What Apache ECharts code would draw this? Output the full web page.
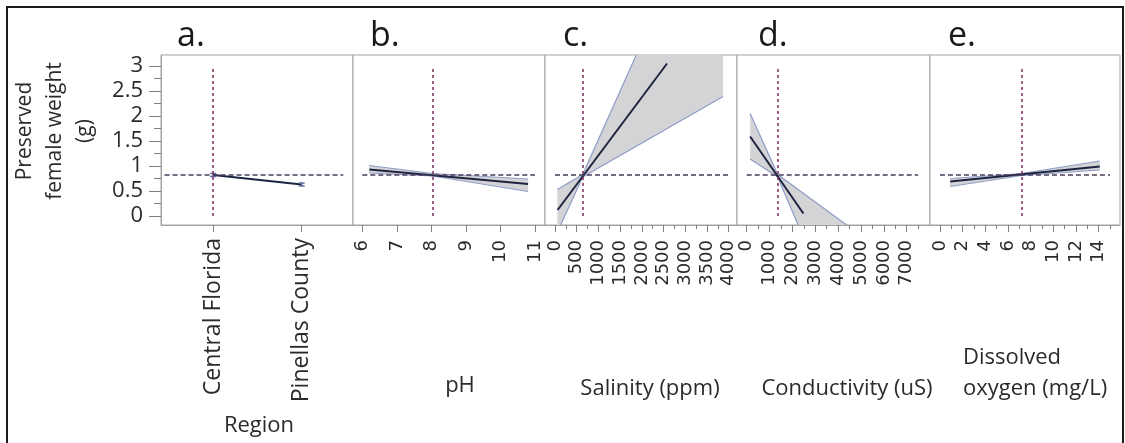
<!DOCTYPE html>
<html><head><meta charset="utf-8">
<script src="https://cdn.jsdelivr.net/npm/echarts@6/dist/echarts.min.js"></script>
<style>html,body{margin:0;padding:0;background:#fff}#c{width:1125px;height:443px}</style>
</head><body><div id="c"></div>
<script>
// ---------- data ----------
const regions = ['Central Florida', 'Pinellas County'];
const regionMean = [0.82, 0.63];
const regionLow = [0.79, 0.60];
const regionHigh = [0.85, 0.66];

const phLineX = [6.2, 10.8];
const phLineY = [0.93, 0.64];
const phBandX = [6.2, 8.03, 10.8];
const phBandLo = [0.86, 0.80, 0.49];
const phBandHi = [1.01, 0.85, 0.74];

const salLineX = [60, 2580];
const salLineY = [0.12, 3.05];
const salBandX = [55, 638, 3870];
const salBandLo = [-0.32, 0.78, 2.39];
const salBandHi = [0.53, 0.83, 7.09];

const condLineX = [150, 2480];
const condLineY = [1.59, 0.05];
const condBandX = [150, 1356, 5000];
const condBandLo = [1.14, 0.78, -3.13];
const condBandHi = [2.05, 0.83, -0.39];

const doLineX = [0.9, 14.1];
const doLineY = [0.69, 0.99];
const doBandX = [0.9, 7.2, 14.1];
const doBandLo = [0.59, 0.81, 0.92];
const doBandHi = [0.75, 0.85, 1.10];

// reference (mean) lines
const meanWeight = 0.82;
const refX = [0, 8.03, 638, 1356, 7.2];          // current factor settings
const refSpanX = [[-0.55, 1.47], [6, 11], [0, 4000], [0, 7500], [0, 15]];
const refSpanY = [0, 3];

// tick values / labels
const yTickVals = [0, 0.5, 1, 1.5, 2, 2.5, 3];
const yTickLabels = ['0', '0.5', '1', '1.5', '2', '2.5', '3'];
const yMinorVals = [0.25, 0.75, 1.25, 1.75, 2.25, 2.75];

const regionTickVals = [0, 1];
const phTickVals = [6, 7, 8, 9, 10, 11];
const phTickLabels = ['6', '7', '8', '9', '10', '11'];
const salTickVals = [0, 500, 1000, 1500, 2000, 2500, 3000, 3500, 4000];
const salTickLabels = ['0', '500', '1000', '1500', '2000', '2500', '3000', '3500', '4000'];
const salMinorVals = [250, 750, 1250, 1750, 2250, 2750, 3250, 3750];
const condTickVals = [0, 1000, 2000, 3000, 4000, 5000, 6000, 7000];
const condTickLabels = ['0', '1000', '2000', '3000', '4000', '5000', '6000', '7000'];
const condMinorVals = [500, 1500, 2500, 3500, 4500, 5500, 6500, 7500];
const doTickVals = [0, 2, 4, 6, 8, 10, 12, 14];
const doTickLabels = ['0', '2', '4', '6', '8', '10', '12', '14'];
const doMinorVals = [1, 3, 5, 7, 9, 11, 13, 15];

const panelLetters = ['a.', 'b.', 'c.', 'd.', 'e.'];
const axisTitles = ['Region', 'pH', 'Salinity (ppm)', 'Conductivity (uS)', 'Dissolved\noxygen (mg/L)'];
const yTitle = 'Preserved\nfemale weight\n(g)';

// ---------- layout ----------
const FONT = '"Open Sans", "Noto Sans", sans-serif';
const TXT = '#2b2b2b';
const gridX = [[161, 353], [353, 545], [545, 737], [737, 930], [930, 1120]];
const gridTop = 55, gridBottomY = 225;
const xRanges = [[-0.59, 1.58], [5.73, 11.29], [-230, 4190], [-424, 8019], [-0.88, 15.88]];
const yRange = [-0.18, 3.22];

const panels = [
  {ticks: regionTickVals, labels: regions, minor: [], fs: 23},
  {ticks: phTickVals, labels: phTickLabels, minor: [], fs: 18},
  {ticks: salTickVals, labels: salTickLabels, minor: salMinorVals, fs: 18},
  {ticks: condTickVals, labels: condTickLabels, minor: condMinorVals, fs: 18},
  {ticks: doTickVals, labels: doTickLabels, minor: doMinorVals, fs: 18}
];

const grids = gridX.map(g => ({
  left: g[0], width: g[1] - g[0], top: gridTop, height: gridBottomY - gridTop,
  show: true, borderColor: '#a3a3a3', borderWidth: 1, backgroundColor: '#fff'
}));

const xAxes = [];
panels.forEach((p, i) => {
  xAxes.push({
    gridIndex: i, type: 'value', min: xRanges[i][0], max: xRanges[i][1], position: 'bottom',
    axisLine: {show: true, onZero: false, lineStyle: {color: '#a3a3a3'}},
    axisTick: {show: true, length: 7, customValues: p.ticks, lineStyle: {color: '#808080'}},
    axisLabel: {
      customValues: p.ticks, rotate: 90, margin: i === 0 ? 13 : 15, fontSize: p.fs,
      fontFamily: i === 0 ? FONT : '"DejaVu Sans", sans-serif',
      color: TXT, formatter: v => p.labels[p.ticks.indexOf(v)]
    },
    splitLine: {show: false}
  });
});
panels.forEach((p, i) => {
  xAxes.push({
    gridIndex: i, type: 'value', min: xRanges[i][0], max: xRanges[i][1], position: 'bottom',
    axisLine: {show: false, onZero: false},
    axisTick: {show: p.minor.length > 0, length: 4, customValues: p.minor.length ? p.minor : [xRanges[i][0]], lineStyle: {color: '#808080'}},
    axisLabel: {show: false}, splitLine: {show: false}
  });
});

const yAxes = gridX.map((g, i) => ({
  gridIndex: i, type: 'value', min: yRange[0], max: yRange[1], position: 'left',
  show: i === 0,
  axisLine: {show: true, onZero: false, lineStyle: {color: '#a3a3a3'}},
  axisTick: {show: true, length: 12, customValues: yTickVals, lineStyle: {color: '#808080'}},
  axisLabel: {customValues: yTickVals, margin: 18, fontSize: 22, fontFamily: FONT, color: TXT,
    formatter: v => yTickLabels[yTickVals.indexOf(v)]},
  splitLine: {show: false}
}));
yAxes.push({
  gridIndex: 0, type: 'value', min: yRange[0], max: yRange[1], position: 'left',
  axisLine: {show: false, onZero: false},
  axisTick: {show: true, length: 7, customValues: yMinorVals, lineStyle: {color: '#808080'}},
  axisLabel: {show: false}, splitLine: {show: false}
});

const LINE_C = '#1d2440';
const BAND_FILL = '#d4d4d6';
const BAND_EDGE = '#8f9dc9';

function refLines(i) {
  return {
    silent: true, symbol: ['none', 'none'], label: {show: false}, animation: false,
    data: [
      [{coord: [refSpanX[i][0], meanWeight], lineStyle: {color: '#4a3c5c', type: [5, 3], width: 1.5}},
       {coord: [refSpanX[i][1], meanWeight]}],
      [{coord: [refX[i], refSpanY[0]], lineStyle: {color: '#7b2d5b', type: [3, 3], width: 1.5}},
       {coord: [refX[i], refSpanY[1]]}]
    ]
  };
}

function band(i, xs, lo, hi) {
  return {
    type: 'custom', xAxisIndex: i, yAxisIndex: i, clip: true, silent: true, z: 2,
    data: xs.map((x, k) => [x, lo[k], hi[k]]),
    encode: {x: 0, y: [1, 2]},
    renderItem: (params, api) => {
      if (params.dataIndex !== 0) return null;
      const up = xs.map((x, k) => api.coord([x, hi[k]]));
      const dn = xs.map((x, k) => api.coord([x, lo[k]]));
      return {type: 'group', children: [
        {type: 'polygon', shape: {points: up.concat(dn.slice().reverse())}, style: {fill: BAND_FILL, stroke: null}},
        {type: 'polyline', shape: {points: up}, style: {stroke: BAND_EDGE, lineWidth: 1.2, fill: null}},
        {type: 'polyline', shape: {points: dn}, style: {stroke: BAND_EDGE, lineWidth: 1.2, fill: null}}
      ]};
    }
  };
}

function meanLine(i, xs, ys) {
  return {
    type: 'line', xAxisIndex: i, yAxisIndex: i, data: xs.map((x, k) => [x, ys[k]]),
    symbol: 'none', lineStyle: {color: LINE_C, width: 2}, z: 3, clip: true,
    markLine: refLines(i)
  };
}

const series = [
  meanLine(0, regionTickVals, regionMean),
  {
    type: 'custom', xAxisIndex: 0, yAxisIndex: 0, z: 4, silent: true,
    data: regionTickVals.map((x, k) => [x, regionLow[k], regionHigh[k]]),
    encode: {x: 0, y: [1, 2]},
    renderItem: (params, api) => {
      const x = api.value(0);
      const a = api.coord([x, api.value(1)]);
      const b = api.coord([x, api.value(2)]);
      const st = {stroke: '#5b6b9b', lineWidth: 1.5};
      return {type: 'group', children: [
        {type: 'line', shape: {x1: a[0], y1: a[1], x2: b[0], y2: b[1]}, style: st},
        {type: 'line', shape: {x1: a[0] - 3, y1: a[1], x2: a[0] + 3, y2: a[1]}, style: st},
        {type: 'line', shape: {x1: b[0] - 3, y1: b[1], x2: b[0] + 3, y2: b[1]}, style: st}
      ]};
    }
  },
  band(1, phBandX, phBandLo, phBandHi), meanLine(1, phLineX, phLineY),
  band(2, salBandX, salBandLo, salBandHi), meanLine(2, salLineX, salLineY),
  band(3, condBandX, condBandLo, condBandHi), meanLine(3, condLineX, condLineY),
  band(4, doBandX, doBandLo, doBandHi), meanLine(4, doLineX, doLineY)
];

const letterX = [177, 370, 563, 758, 948];
const graphic = [
  {type: 'rect', shape: {x: 7, y: 7, width: 1116, height: 470}, style: {fill: 'none', stroke: '#1a1a1a', lineWidth: 2}, silent: true},
  {type: 'text', x: 55, y: 131, rotation: Math.PI / 2,
   style: {text: yTitle, font: '21px ' + FONT, fill: TXT, align: 'center', verticalAlign: 'middle', lineHeight: 30}},
  {type: 'text', x: 259, y: 426, style: {text: axisTitles[0], font: '22px ' + FONT, fill: TXT, align: 'center', verticalAlign: 'middle'}},
  {type: 'text', x: 460, y: 386, style: {text: axisTitles[1], font: '22px ' + FONT, fill: TXT, align: 'center', verticalAlign: 'middle'}},
  {type: 'text', x: 650, y: 389, style: {text: axisTitles[2], font: '22px ' + FONT, fill: TXT, align: 'center', verticalAlign: 'middle'}},
  {type: 'text', x: 847, y: 389, style: {text: axisTitles[3], font: '22px ' + FONT, fill: TXT, align: 'center', verticalAlign: 'middle'}},
  {type: 'text', x: 963, y: 373, style: {text: axisTitles[4], font: '22px ' + FONT, fill: TXT, align: 'left', verticalAlign: 'middle', lineHeight: 31}}
];
panelLetters.forEach((t, i) => graphic.push({
  type: 'text', x: letterX[i], y: 36, style: {text: t, font: '34px ' + FONT, fill: '#1a1a1a', align: 'left', verticalAlign: 'middle'}
}));

const chart = echarts.init(document.getElementById('c'), null, {renderer: 'canvas'});
chart.setOption({
  animation: false, backgroundColor: '#fff',
  grid: grids, xAxis: xAxes, yAxis: yAxes, series: series, graphic: graphic
});
</script></body></html>
